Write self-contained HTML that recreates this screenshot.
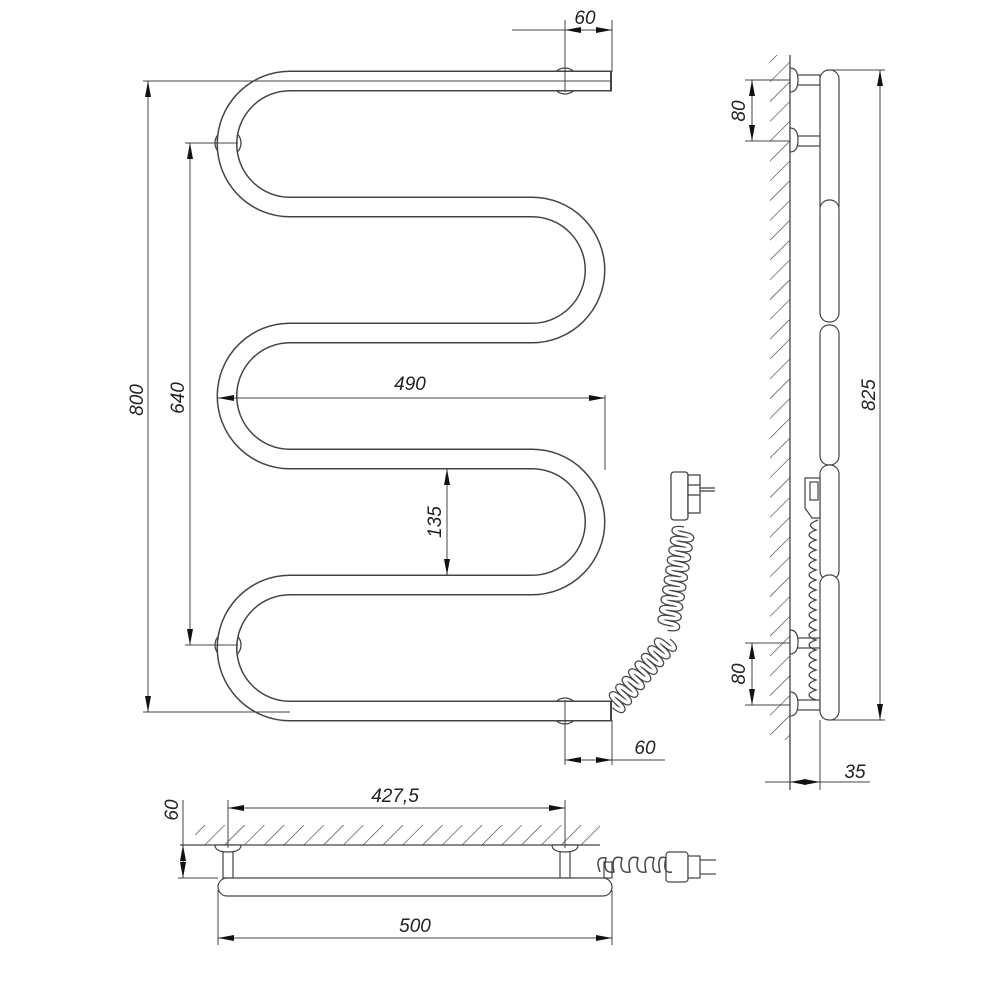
<!DOCTYPE html>
<html><head><meta charset="utf-8"><style>
html,body{margin:0;padding:0;background:#fff}
svg{display:block}
text{font-family:"Liberation Sans",sans-serif;font-style:italic;font-size:19px;fill:#222}
</style></head><body>
<svg width="1000" height="1000" viewBox="0 0 1000 1000" xmlns="http://www.w3.org/2000/svg">
<defs>
<pattern id="h" width="14" height="14" patternUnits="userSpaceOnUse" patternTransform="rotate(45)">
<line x1="0" y1="0" x2="0" y2="14" stroke="#333" stroke-width="1.2"/>
</pattern>
<marker id="a" viewBox="0 0 16 6" refX="16" refY="3" markerWidth="16" markerHeight="6" orient="auto-start-reverse" markerUnits="userSpaceOnUse">
<path d="M0,0 L16,3 L0,6z" fill="#111"/></marker>
<path id="coilA" d="M0,0 c12,0 12,-5 0,-5 c-12,0 -12,-5 0,-5 c12,0 12,-5 0,-5 c-12,0 -12,-5 0,-5 c12,0 12,-5 0,-5 c-12,0 -12,-5 0,-5 c12,0 12,-5 0,-5 c-12,0 -12,-5 0,-5 c12,0 12,-5 0,-5 c-12,0 -12,-5 0,-5 c12,0 12,-5 0,-5 c-12,0 -12,-5 0,-5 c12,0 12,-5 0,-5 c-12,0 -12,-5 0,-5 c12,0 12,-5 0,-5 c-12,0 -12,-5 0,-5 c12,0 12,-5 0,-5 c-12,0 -12,-5 0,-5 c12,0 12,-5 0,-5 c-12,0 -12,-5 0,-5"/>
<path id="coilB" d="M0,0 c12,0 12,-5 0,-5 c-12,0 -12,-5 0,-5 c12,0 12,-5 0,-5 c-12,0 -12,-5 0,-5 c12,0 12,-5 0,-5 c-12,0 -12,-5 0,-5 c12,0 12,-5 0,-5 c-12,0 -12,-5 0,-5 c12,0 12,-5 0,-5 c-12,0 -12,-5 0,-5 c12,0 12,-5 0,-5 c-12,0 -12,-5 0,-5 c12,0 12,-5 0,-5 c-12,0 -12,-5 0,-5 c12,0 12,-5 0,-5 c-12,0 -12,-5 0,-5 c12,0 12,-5 0,-5"/>
</defs>
<g fill="none" stroke="#444" stroke-width="1.3">
<circle cx="565" cy="81" r="13" fill="#fff"/>
<circle cx="565" cy="711" r="13" fill="#fff"/>
<circle cx="228" cy="143" r="13" fill="#fff"/>
<circle cx="228" cy="645" r="13" fill="#fff"/>
</g>
<path d="M612,81 H290 A63,63 0 0 0 290,207 H532 A63,63 0 0 1 532,333 H290 A63,63 0 0 0 290,459 H532 A63,63 0 0 1 532,585 H290 A63,63 0 0 0 290,711 H612" fill="none" stroke="#444" stroke-width="21"/>
<path d="M612,81 H290 A63,63 0 0 0 290,207 H532 A63,63 0 0 1 532,333 H290 A63,63 0 0 0 290,459 H532 A63,63 0 0 1 532,585 H290 A63,63 0 0 0 290,711 H612" fill="none" stroke="#fff" stroke-width="18"/>
<line x1="611" y1="71" x2="611" y2="91" stroke="#444" stroke-width="2"/>
<line x1="611" y1="701" x2="611" y2="721" stroke="#444" stroke-width="2"/>
<g stroke="#444" stroke-width="1" fill="none">
<line x1="143" y1="81" x2="612" y2="81"/>
<line x1="143" y1="712" x2="290" y2="712"/>
<line x1="148" y1="81" x2="148" y2="712" marker-start="url(#a)" marker-end="url(#a)"/>
<line x1="185" y1="143" x2="238" y2="143"/>
<line x1="185" y1="645" x2="238" y2="645"/>
<line x1="190" y1="143" x2="190" y2="645" marker-start="url(#a)" marker-end="url(#a)"/>
<line x1="605" y1="395" x2="605" y2="470"/>
<line x1="218" y1="398" x2="605" y2="398" marker-start="url(#a)" marker-end="url(#a)"/>
<line x1="447" y1="469" x2="447" y2="575" marker-start="url(#a)" marker-end="url(#a)"/>
<line x1="565" y1="20" x2="565" y2="92"/>
<line x1="612" y1="20" x2="612" y2="72"/>
<line x1="512" y1="30" x2="612" y2="30"/>
<line x1="565" y1="30" x2="612" y2="30" marker-start="url(#a)" marker-end="url(#a)"/>
<line x1="565" y1="700" x2="565" y2="765"/>
<line x1="612" y1="720" x2="612" y2="765"/>
<line x1="565" y1="760" x2="665" y2="760"/>
<line x1="565" y1="760" x2="612" y2="760" marker-start="url(#a)" marker-end="url(#a)"/>
</g>
<text transform="translate(143,400) rotate(-90)" text-anchor="middle">800</text>
<text transform="translate(184,398) rotate(-90)" text-anchor="middle">640</text>
<text x="410" y="390" text-anchor="middle">490</text>
<text transform="translate(441,522) rotate(-90)" text-anchor="middle">135</text>
<text x="585" y="24" text-anchor="middle">60</text>
<text x="645" y="754" text-anchor="middle">60</text>
<!-- coil cord -->
<g transform="translate(668,628) rotate(9)">
<use href="#coilA" fill="none" stroke="#444" stroke-width="6"/>
<use href="#coilA" fill="none" stroke="#fff" stroke-width="3.5"/>
</g>
<g transform="translate(614,706) rotate(40)">
<use href="#coilB" fill="none" stroke="#444" stroke-width="6"/>
<use href="#coilB" fill="none" stroke="#fff" stroke-width="3.5"/>
</g>
<g fill="none" stroke="#444" stroke-width="1.3">
<rect x="671" y="472" width="17" height="48" rx="3" fill="#fff"/>
<rect x="688" y="475" width="12" height="38" fill="#fff"/>
<line x1="688" y1="485" x2="700" y2="485"/><line x1="688" y1="495" x2="700" y2="495"/>
<line x1="700" y1="488" x2="715" y2="488"/><line x1="700" y1="491" x2="715" y2="491"/>
</g>
<!-- side view -->
<rect x="770" y="55" width="20" height="685" fill="url(#h)"/>
<line x1="790" y1="55" x2="790" y2="790" stroke="#444" stroke-width="1.3"/>
<g fill="#fff" stroke="#444" stroke-width="1.2">
<rect x="795" y="75" width="25" height="10"/><rect x="795" y="136" width="25" height="10"/>
<rect x="795" y="638" width="25" height="10"/><rect x="795" y="700" width="25" height="10"/>
<path d="M790,68 q8,0 8,12 q0,12 -8,12z"/><path d="M790,128 q8,0 8,12 q0,12 -8,12z"/>
<path d="M790,630 q8,0 8,12 q0,12 -8,12z"/><path d="M790,692 q8,0 8,12 q0,12 -8,12z"/>
<rect x="820" y="70" width="19" height="145" rx="9"/>
<rect x="820" y="200" width="19" height="122" rx="9"/>
<rect x="820" y="325" width="19" height="140" rx="9"/>
<rect x="820" y="465" width="19" height="115" rx="9"/>
<rect x="820" y="575" width="19" height="145" rx="9"/>
<path d="M805,478 h15 v40 h-8 l-7,-10z"/><rect x="810" y="482" width="8" height="18"/>
</g>
<path d="M818,520 q-14,5 -2,10 q-14,5 0,10 q-14,5 0,10 q-14,5 0,10 q-14,5 0,10 q-14,5 0,10 q-14,5 0,10 q-14,5 0,10 q-14,5 0,10 q-14,5 0,10 q-14,5 0,10 q-14,5 0,10 q-14,5 0,10 q-14,5 0,10 q-14,5 0,10 q-14,5 0,10 q-14,5 0,10 q-14,5 0,10" fill="none" stroke="#444" stroke-width="1.3"/>
<g stroke="#444" stroke-width="1" fill="none">
<line x1="829" y1="70" x2="885" y2="70"/><line x1="829" y1="720" x2="885" y2="720"/>
<line x1="880" y1="70" x2="880" y2="720" marker-start="url(#a)" marker-end="url(#a)"/>
<line x1="745" y1="80" x2="790" y2="80"/><line x1="745" y1="141" x2="790" y2="141"/>
<line x1="752" y1="80" x2="752" y2="141" marker-start="url(#a)" marker-end="url(#a)"/>
<line x1="745" y1="643" x2="790" y2="643"/><line x1="745" y1="705" x2="790" y2="705"/>
<line x1="752" y1="643" x2="752" y2="705" marker-start="url(#a)" marker-end="url(#a)"/>
<line x1="820" y1="720" x2="820" y2="790"/>
<line x1="765" y1="782" x2="870" y2="782"/>
<line x1="790" y1="782" x2="820" y2="782" marker-start="url(#a)" marker-end="url(#a)"/>
</g>
<text transform="translate(875,395) rotate(-90)" text-anchor="middle">825</text>
<text transform="translate(745,111) rotate(-90)" text-anchor="middle">80</text>
<text transform="translate(745,674) rotate(-90)" text-anchor="middle">80</text>
<text x="855" y="778" text-anchor="middle">35</text>
<!-- bottom view -->
<rect x="195" y="825" width="405" height="20" fill="url(#h)"/>
<line x1="180" y1="845" x2="600" y2="845" stroke="#444" stroke-width="1.3"/>
<g fill="#fff" stroke="#444" stroke-width="1.2">
<rect x="223" y="848" width="10" height="30"/><rect x="560" y="848" width="10" height="30"/>
<path d="M215,845 q0,7 13,7 q13,0 13,-7z"/><path d="M552,845 q0,7 13,7 q13,0 13,-7z"/>
<rect x="218" y="878" width="394" height="18" rx="9"/>
<rect x="604" y="862" width="8" height="16"/>
<rect x="666" y="852" width="22" height="30" rx="3"/>
<rect x="688" y="856" width="12" height="22"/>
<line x1="700" y1="860" x2="716" y2="860"/><line x1="700" y1="874" x2="716" y2="874"/>
</g>
<path d="M600,872 q-6,-16 6,-14 q-4,16 8,14 q-4,-18 8,-14 q-4,16 8,14 q-4,-18 8,-14 q-4,16 8,14 q-4,-18 8,-14 q-4,16 6,14 q-4,-18 6,-14 q-4,16 6,14" fill="none" stroke="#444" stroke-width="1.5"/>
<g stroke="#444" stroke-width="1" fill="none">
<line x1="228" y1="800" x2="228" y2="848"/><line x1="565" y1="800" x2="565" y2="848"/>
<line x1="228" y1="808" x2="565" y2="808" marker-start="url(#a)" marker-end="url(#a)"/>
<line x1="218" y1="890" x2="218" y2="945"/><line x1="612" y1="890" x2="612" y2="945"/>
<line x1="218" y1="938" x2="612" y2="938" marker-start="url(#a)" marker-end="url(#a)"/>
<line x1="178" y1="878" x2="218" y2="878"/>
<line x1="183" y1="800" x2="183" y2="878"/>
<line x1="183" y1="845" x2="183" y2="878" marker-start="url(#a)" marker-end="url(#a)"/>
</g>
<text x="395" y="802" text-anchor="middle">427,5</text>
<text x="415" y="932" text-anchor="middle">500</text>
<text transform="translate(178,810) rotate(-90)" text-anchor="middle">60</text>
</svg>
</body></html>
